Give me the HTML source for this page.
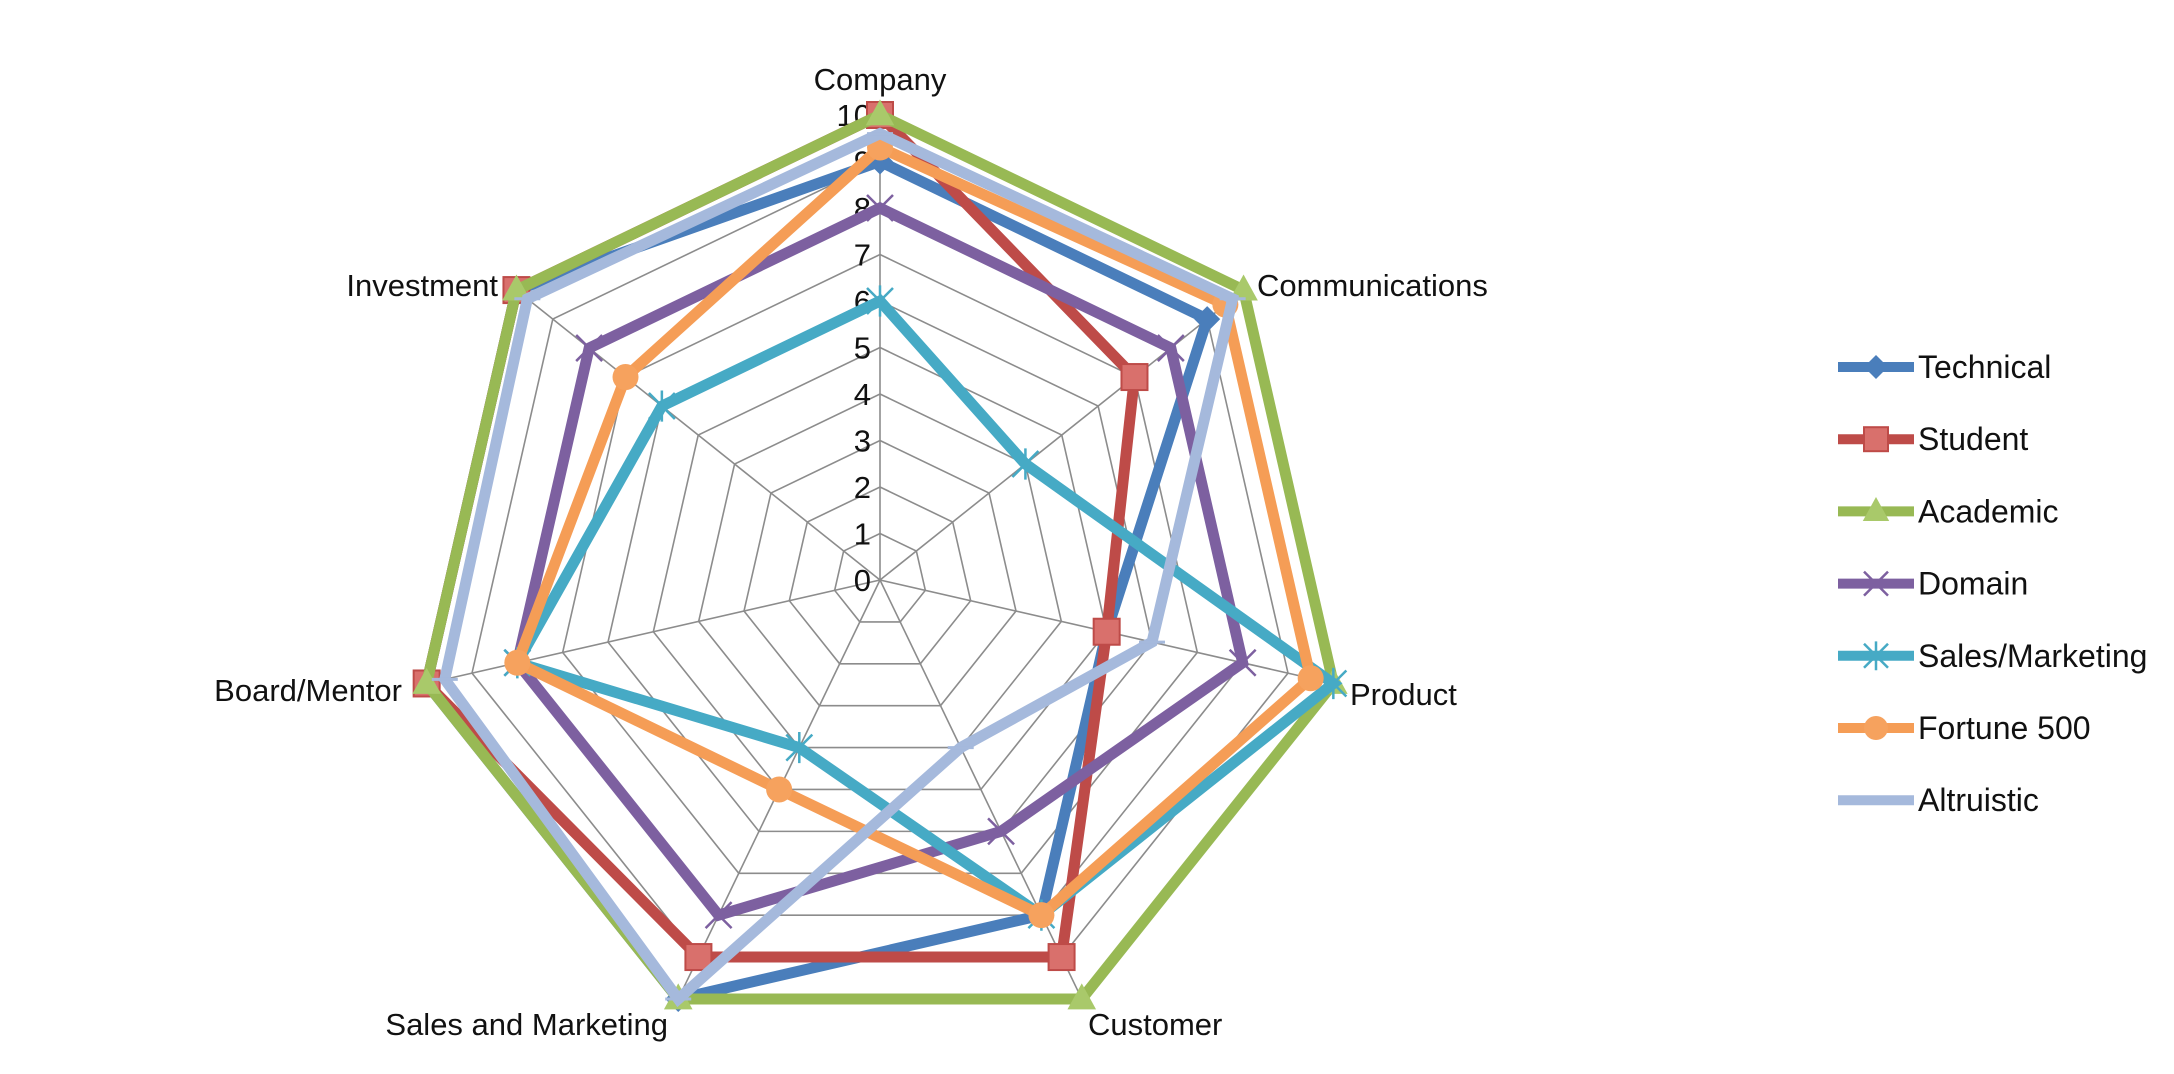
<!DOCTYPE html>
<html><head><meta charset="utf-8"><style>
html,body{margin:0;padding:0;background:#fff;}
svg{display:block;font-family:"Liberation Sans",sans-serif;}
</style></head><body>
<svg id="chart" width="2174" height="1074" viewBox="0 0 2174 1074" xmlns="http://www.w3.org/2000/svg">
<g id="grid"></g>
<g id="series"></g>
<g id="labels"></g>
<g id="legend"></g>
</svg>
<script>
const categories = ["Company","Communications","Product","Customer","Sales and Marketing","Board/Mentor","Investment"];
const tickLabels = [0,1,2,3,4,5,6,7,8,9,10];
const seriesNames = ["Technical","Student","Academic","Domain","Sales/Marketing","Fortune 500","Altruistic"];
const technical = [9,9,5,8,10,10,10];
const student = [10,7,5,9,9,10,10];
const academic = [10,10,10,10,10,10,10];
const domain = [8,8,8,6,8,8,8];
const salesMarketing = [6,4,10,8,4,8,6];
const fortune500 = [9.3,9.5,9.5,8,5,8,7];
const altruistic = [9.6,9.7,6,4,10,9.6,9.7];
const seriesValues = [technical,student,academic,domain,salesMarketing,fortune500,altruistic];

const colors = ["#4a7ebb","#be4b48","#98b954","#7d60a0","#46aac5","#f59d56","#a5b9dc"];
const markers = ["diamond","square","triangle","x","star","circle","plus"];
const NS = "http://www.w3.org/2000/svg";
const cx = 880, cy = 580, R = 465, maxV = 10;
const n = categories.length;
function ang(i){ return i*2*Math.PI/n; }
function pt(i,v){ const r = v/maxV*R; return [cx + r*Math.sin(ang(i)), cy - r*Math.cos(ang(i))]; }
function mk(tag, attrs, parent){ const e = document.createElementNS(NS, tag); for (const k in attrs) e.setAttribute(k, attrs[k]); parent.appendChild(e); return e; }

const grid = document.getElementById('grid');
tickLabels.forEach(t => {
  if (t === 0) return;
  const pts = categories.map((c,i) => pt(i,t).join(',')).join(' ');
  const ring = mk('polygon', {points: pts, fill: 'none', stroke: '#8c8c8c', 'stroke-width': 1.6}, grid);
  
  
});
categories.forEach((c,i) => {
  const p = pt(i,maxV);
  const s = mk('line', {x1: cx, y1: cy, x2: p[0], y2: p[1], stroke: '#8c8c8c', 'stroke-width': 1.6}, grid);
  
  
});
tickLabels.forEach(t => {
  const p = pt(0,t);
  const tx = mk('text', {x: p[0]-9, y: p[1]+11, 'text-anchor': 'end', 'font-size': 31, fill: '#111'}, grid);
  tx.textContent = t;
  
  
});

function drawMarker(type, x, y, color, parent, s){
  let e;
  if (type === 'diamond') e = mk('polygon', {points: `${x},${y-s} ${x+s},${y} ${x},${y+s} ${x-s},${y}`, fill: color}, parent);
  else if (type === 'square') e = mk('rect', {x: x-s, y: y-s, width: 2*s, height: 2*s, fill: '#d9706c', stroke: color, 'stroke-width': 2}, parent);
  else if (type === 'triangle') e = mk('polygon', {points: `${x},${y-s*1.2} ${x+s*1.1},${y+s*0.8} ${x-s*1.1},${y+s*0.8}`, fill: '#a9c96a'}, parent);
  else if (type === 'x') e = mk('path', {d: `M${x-s},${y-s}L${x+s},${y+s}M${x-s},${y+s}L${x+s},${y-s}`, stroke: color, 'stroke-width': 2.5}, parent);
  else if (type === 'star') e = mk('path', {d: `M${x-s},${y-s}L${x+s},${y+s}M${x-s},${y+s}L${x+s},${y-s}M${x},${y-s*1.2}L${x},${y+s*1.2}`, stroke: color, 'stroke-width': 2.5}, parent);
  else if (type === 'circle') e = mk('circle', {cx: x, cy: y, r: s, fill: '#f6a25e'}, parent);
  else e = mk('path', {d: `M${x-s},${y}L${x+s},${y}`, stroke: color, 'stroke-width': 3}, parent);
  return e;
}

const sg = document.getElementById('series');
seriesValues.forEach((vals, k) => {
  const g = mk('g', {}, sg);
  
  
  const pts = vals.map((v,i) => pt(i,v).join(',')).join(' ');
  const poly = mk('polygon', {points: pts, fill: 'none', stroke: colors[k], 'stroke-width': 11, 'stroke-linejoin': 'miter'}, g);
  
  
  vals.forEach((v,i) => {
    const p = pt(i,v);
    const m = drawMarker(markers[k], p[0], p[1], colors[k], g, 13);
    
    
  });
});

const lg = document.getElementById('labels');
const labelPos = [
  [880, 90, 'middle'], [1257, 296, 'start'], [1350, 705, 'start'], [1088, 1035, 'start'],
  [668, 1035, 'end'], [402, 701, 'end'], [498, 296, 'end']
];
categories.forEach((c,i) => {
  const lp = labelPos[i];
  const t = mk('text', {x: lp[0], y: lp[1], 'text-anchor': lp[2], 'font-size': 31, fill: '#111'}, lg);
  t.textContent = c;
  
  
});

const leg = document.getElementById('legend');
seriesNames.forEach((s,k) => {
  const y = 367 + k*72.2;
  const g = mk('g', {}, leg);
  
  
  mk('line', {x1: 1838, y1: y, x2: 1914, y2: y, stroke: colors[k], 'stroke-width': 10}, g);
  drawMarker(markers[k], 1876, y, colors[k], g, 12);
  const t = mk('text', {x: 1918, y: y+11, 'font-size': 32, fill: '#111'}, g);
  t.textContent = s;
});
</script>
</body></html>
